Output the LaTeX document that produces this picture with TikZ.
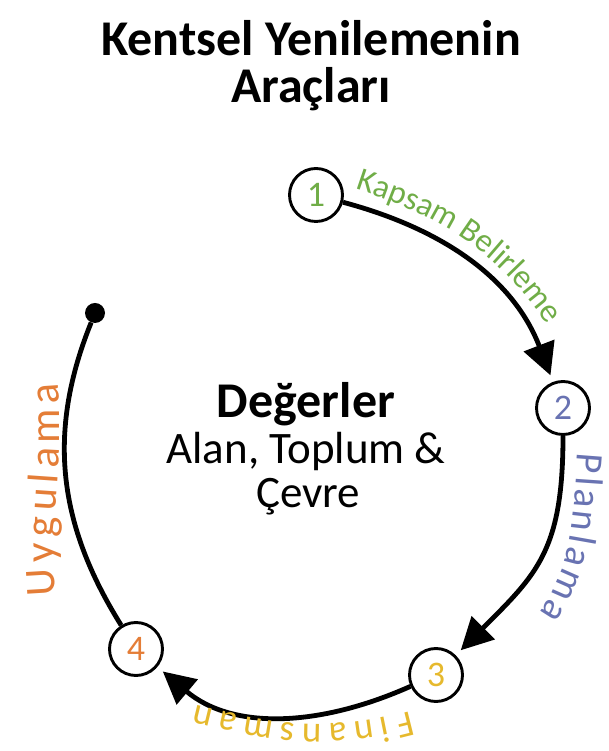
\documentclass[tikz,border=0pt]{standalone}
\usepackage{fontspec}
\setmainfont{Carlito}
\usetikzlibrary{arrows.meta,decorations.text}
\definecolor{kgreen}{RGB}{112,173,71}
\definecolor{kblue}{RGB}{105,115,178}
\definecolor{kgold}{RGB}{230,185,45}
\definecolor{korange}{RGB}{228,125,55}
\newcommand\labfontA{\fontsize{33}{33}\selectfont}
\newcommand\labfontB{\fontsize{39}{39}\selectfont}
\newcommand\labfontC{\fontsize{37}{37}\selectfont}
\newcommand\labfontD{\fontsize{43}{43}\selectfont}
\begin{document}
\begin{tikzpicture}[x=1pt,y=1pt,
  numnode/.style={circle,draw=black,line width=2.9pt,minimum size=53pt,inner sep=0pt,font=\fontsize{36}{36}\selectfont},
  conn/.style={line width=4.8pt,-{Triangle[length=32pt,width=32pt]},shorten >=7pt},
  plainconn/.style={line width=4.8pt},
  enddot/.style={circle,fill=black,minimum size=20pt,inner sep=0pt},
  titletext/.style={anchor=base,font=\fontsize{50}{50}\selectfont\bfseries},
  labpath/.style={decorate,decoration={text along path,text align=fit to path,text={#1}}}
]
\useasboundingbox (0,0) rectangle (609,751);
% title
\node[titletext] (t1) at (311,695) {Kentsel Yenilemenin};
\node[titletext] (t2) at (311,648) {Araçları};
% centre text
\node[anchor=base,font=\fontsize{50}{50}\selectfont\bfseries] (c1) at (306,333) {Değerler};
\node[anchor=base,font=\fontsize{45}{45}\selectfont] (c2) at (306,287) {Alan, Toplum \&};
\node[anchor=base,font=\fontsize{45}{45}\selectfont] (c3) at (308,243) {Çevre};
% step circles
\node[numnode,text=kgreen] (n1) at (316,556) {1};
\node[numnode,text=kblue] (n2) at (563,343) {2};
\node[numnode,text=kgold] (n3) at (436,76) {3};
\node[numnode,text=korange] (n4) at (136,102) {4};
\node[enddot] (dot) at (95,438) {};
% connectors
\draw[conn] (n1) to[out=-15,in=111] (n2);
\draw[conn] (n2) to[out=-90,in=45,looseness=1.2] (n3);
\draw[conn] (n3) to[out=-156,in=-40] (n4);
\draw[plainconn] (n4) to[out=122,in=-112] (dot);
% labels along the circle
\path[labpath={|\labfontA\color{kgreen}|Kapsam Belirleme}] (355,562) to[out=-18,in=125] (546,428);
\path[labpath={|\labfontB\color{kblue}|Planlama}] (578,298) to[out=-95,in=55] (539,138);
\path[labpath={|\labfontC\color{kgold}|Finansman}] (410,40) to[out=-165,in=-14] (196,46);
\path[labpath={|\labfontD\color{korange}|Uygulama}] (56,156) to[out=95,in=-85] (58,368);
\end{tikzpicture}
\end{document}
